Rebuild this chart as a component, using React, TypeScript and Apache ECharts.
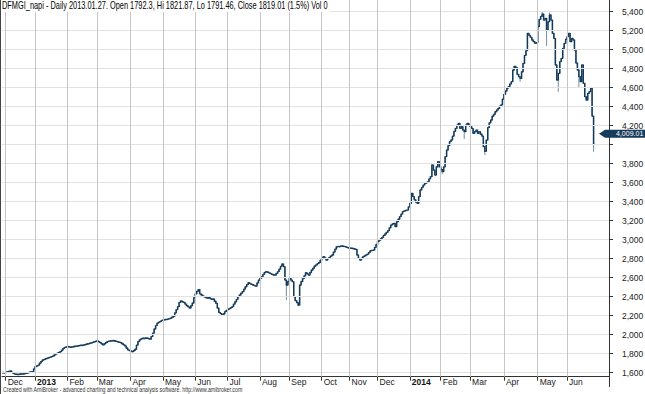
import React, { useEffect, useRef } from 'react';
import * as echarts from 'echarts';

const TITLE = 'DFMGI_napi - Daily 2013.01.27. Open 1792.3, Hi 1821.87, Lo 1791.46, Close 1819.01 (1.5%) Vol 0';
const FOOTER = 'Created with AmiBroker - advanced charting and technical analysis software. http://www.amibroker.com';

const firstOpen = 1600;
const closes: number[] = [
  1602, 1598, 1605, 1610, 1615, 1618, 1603, 1592, 1586, 1584,
  1582, 1585, 1588, 1586, 1590, 1592, 1596, 1600, 1606, 1610,
  1612, 1640, 1663, 1672, 1680, 1702, 1720, 1734, 1740, 1748,
  1752, 1758, 1765, 1770, 1776, 1788, 1798, 1805, 1814, 1822,
  1838, 1857, 1866, 1872, 1876, 1871, 1868, 1872, 1876, 1879,
  1880, 1884, 1887, 1890, 1888, 1893, 1897, 1902, 1906, 1910,
  1915, 1920, 1926, 1931, 1935, 1926, 1917, 1905, 1893, 1905,
  1918, 1928, 1932, 1936, 1938, 1939, 1934, 1930, 1925, 1921,
  1917, 1905, 1894, 1882, 1860, 1840, 1832, 1826, 1822, 1834,
  1847, 1890, 1928, 1945, 1957, 1963, 1960, 1966, 1963, 1958,
  1953, 1980, 2016, 2060, 2095, 2122, 2132, 2140, 2150, 2157,
  2160, 2162, 2164, 2170, 2175, 2184, 2193, 2230, 2265, 2295,
  2340, 2355, 2346, 2340, 2322, 2305, 2292, 2281, 2305, 2334,
  2390, 2430, 2457, 2475, 2430, 2418, 2405, 2398, 2390, 2384,
  2392, 2380, 2372, 2376, 2352, 2330, 2280, 2235, 2222, 2207,
  2218, 2242, 2255, 2267, 2275, 2285, 2295, 2322, 2347, 2372,
  2400, 2418, 2437, 2453, 2480, 2505, 2528, 2547, 2538, 2530,
  2523, 2517, 2512, 2545, 2575, 2592, 2610, 2635, 2655, 2663,
  2658, 2650, 2642, 2635, 2630, 2628, 2645, 2663, 2690, 2720,
  2744, 2716, 2575, 2523, 2560, 2593, 2575, 2558, 2400, 2358,
  2337, 2312, 2523, 2560, 2590, 2620, 2652, 2640, 2628, 2655,
  2681, 2700, 2723, 2735, 2748, 2760, 2785, 2805, 2821, 2805,
  2786, 2800, 2815, 2828, 2839, 2870, 2900, 2926, 2930, 2928,
  2935, 2933, 2930, 2924, 2919, 2915, 2912, 2910, 2908, 2902,
  2898, 2839, 2804, 2786, 2805, 2821, 2830, 2840, 2849, 2866,
  2884, 2888, 2891, 2920, 2950, 2979, 2995, 3010, 3025, 3045,
  3060, 3078, 3095, 3125, 3154, 3165, 3172, 3137, 3189, 3215,
  3242, 3270, 3295, 3302, 3308, 3312, 3345, 3382, 3488, 3453,
  3420, 3395, 3382, 3453, 3523, 3550, 3575, 3590, 3600, 3610,
  3640, 3663, 3786, 3733, 3681, 3768, 3821, 3768, 3740, 3716,
  3768, 3874, 3944, 3990, 4032, 4050, 4090, 4140, 4172, 4207,
  4225, 4172, 4189, 4154, 4137, 4207, 4225, 4207, 4190, 4172,
  4119, 4137, 4154, 4119, 4137, 4110, 4090, 3979, 3930, 4049,
  4180, 4230, 4260, 4300, 4320, 4347, 4365, 4382, 4405, 4420,
  4480, 4530, 4565, 4595, 4610, 4640, 4663, 4786, 4825, 4810,
  4740, 4716, 4698, 4768, 4856, 4940, 4990, 5172, 5150, 5130,
  5102, 5084, 5067, 5075, 5242, 5320, 5350, 5375, 5312, 5330,
  5207, 5295, 5365, 5312, 5172, 5119, 4839, 4681, 4751, 4874,
  4909, 5014, 5067, 5110, 5137, 5172, 5084, 5119, 5102, 4996,
  4860, 4786, 4716, 4663, 4839, 4646, 4505, 4470, 4540, 4558,
  4593, 4300, 4009.01,
];

const wickLows: [number, number][] = [
  [193, 2365], [201, 2300], [299, 3690], [314, 4060], [328, 3891],
  [352, 4663], [370, 5040], [378, 4558], [392, 4600], [402, 3926],
];
const wickHighs: [number, number][] = [[292, 3800], [364, 5260], [367, 5400], [372, 5392]];

const blankBars = 10;
const monthIdx = [2, 22, 44, 64, 87, 109, 131, 153, 175, 195, 217, 236, 255, 277, 298, 318, 341, 364, 384];
const monthLabels = ['Dec', '2013', 'Feb', 'Mar', 'Apr', 'May', 'Jun', 'Jul', 'Aug', 'Sep', 'Oct', 'Nov', 'Dec', '2014', 'Feb', 'Mar', 'Apr', 'May', 'Jun'];
const yTicks = [1600, 1800, 2000, 2200, 2400, 2600, 2800, 3000, 3200, 3400, 3600, 3800, 4000, 4200, 4400, 4600, 4800, 5000, 5200, 5400];
const yMin = 1558;
const yMax = 5523;

const BODY = '#143a5a';
const WICK = '#7f97ab';
const FONT = 'Arial, "Liberation Sans", sans-serif';

export default function App() {
  const ref = useRef<HTMLDivElement>(null);

  useEffect(() => {
    document.body.style.margin = '0';
    if (!ref.current) return;
    const chart = echarts.init(ref.current, null, { renderer: 'svg' });

    const last = closes[closes.length - 1];
    const ohlc = closes.map((c, i) => {
      const o = i === 0 ? firstOpen : closes[i - 1];
      let l = Math.min(o, c);
      let h = Math.max(o, c);
      const wl = wickLows.find((w) => w[0] === i);
      if (wl) l = Math.min(l, wl[1]);
      const wh = wickHighs.find((w) => w[0] === i);
      if (wh) h = Math.max(h, wh[1]);
      return [i, o, c, l, h];
    });
    const cats = Array.from({ length: closes.length + blankBars }, (_, i) => String(i));
    // the tick label hidden behind the last-price marker
    const labelTicks = yTicks.filter((v) => Math.abs(v - last) > 150);

    chart.setOption({
      animation: false,
      backgroundColor: '#ffffff',
      grid: { left: 2, right: 36, top: 0, bottom: 17.3, containLabel: false, outerBoundsMode: 'none' },
      xAxis: {
        type: 'category',
        data: cats,
        boundaryGap: true,
        axisLine: { show: true, lineStyle: { color: '#333', width: 1 } },
        axisTick: {
          show: true,
          alignWithLabel: true,
          length: 4,
          interval: (i: number) => monthIdx.includes(i),
          lineStyle: { color: '#333' },
        },
        axisLabel: {
          show: true,
          interval: (i: number) => monthIdx.includes(i),
          formatter: (v: string) => {
            const k = monthIdx.indexOf(Number(v));
            const t = k >= 0 ? monthLabels[k] : '';
            return /^\d{4}$/.test(t) ? `{b|${t}}` : `{n|${t}}`;
          },
          align: 'left',
          margin: 1,
          padding: [0, 0, 0, 2],
          rich: {
            n: { fontSize: 8.5, fontFamily: FONT, color: '#222' },
            b: { fontSize: 8.5, fontFamily: FONT, color: '#111', fontWeight: 'bold' },
          },
        },
        splitLine: { show: false },
      },
      yAxis: {
        type: 'value',
        position: 'right',
        min: yMin,
        max: yMax,
        axisLine: { show: true, lineStyle: { color: '#333', width: 1 } },
        axisTick: { show: true, length: 4, customValues: yTicks, lineStyle: { color: '#333' } },
        axisLabel: {
          customValues: labelTicks,
          margin: 13,
          formatter: (v: number) => v.toLocaleString('en-US'),
          color: '#222',
          fontSize: 8.5,
          fontFamily: FONT,
        },
        splitLine: { show: false },
      },
      series: [
        {
          type: 'line',
          data: [],
          silent: true,
          z: 1,
          markLine: {
            silent: true,
            symbol: ['none', 'none'],
            label: { show: false },
            lineStyle: { color: '#e2e2e2', type: 'solid', width: 1 },
            emphasis: { disabled: true },
            data: yTicks.map((v) => ({ yAxis: v })),
          },
        },
        {
          type: 'line',
          data: [],
          silent: true,
          z: 1,
          markLine: {
            silent: true,
            symbol: ['none', 'none'],
            label: { show: false },
            lineStyle: { color: '#c6c6c6', type: 'solid', width: 1 },
            emphasis: { disabled: true },
            data: monthIdx.map((i) => ({ xAxis: i })),
          },
        },
        {
          type: 'custom',
          z: 3,
          data: ohlc,
          encode: { x: 0, y: [1, 2, 3, 4] },
          renderItem: (params: any, api: any) => {
            const x = api.value(0);
            const o = api.coord([x, api.value(1)]);
            const c = api.coord([x, api.value(2)]);
            const l = api.coord([x, api.value(3)]);
            const h = api.coord([x, api.value(4)]);
            const half = api.size([1, 0])[0] / 2;
            const top = Math.min(o[1], c[1]);
            const bot = Math.max(o[1], c[1]);
            return {
              type: 'group',
              children: [
                { type: 'line', shape: { x1: l[0], y1: l[1], x2: h[0], y2: h[1] }, style: { stroke: WICK, lineWidth: 1.1 } },
                { type: 'line', shape: { x1: o[0], y1: top - 0.4, x2: o[0], y2: Math.max(bot, top + 0.6) + 0.4 }, style: { stroke: BODY, lineWidth: 1.5 } },
                { type: 'line', shape: { x1: o[0] - half, y1: o[1], x2: o[0], y2: o[1] }, style: { stroke: BODY, lineWidth: 1.3 } },
                { type: 'line', shape: { x1: c[0], y1: c[1], x2: c[0] + half, y2: c[1] }, style: { stroke: BODY, lineWidth: 1.3 } },
              ],
            };
          },
        },
      ],
    });

    const py = (chart.convertToPixel({ yAxisIndex: 0 }, last) as number) - 10;
    const gridRight = 609;
    const axisBottom = 376.7;

    chart.setOption({
      graphic: [
        {
          type: 'line',
          shape: { x1: 0.5, y1: 0, x2: 0.5, y2: 394 },
          style: { stroke: '#444', lineWidth: 1 },
          z: 50,
        },
        {
          type: 'line',
          shape: { x1: gridRight + 0.5, y1: axisBottom, x2: gridRight + 0.5, y2: 387 },
          style: { stroke: '#333', lineWidth: 1 },
          z: 50,
        },
        {
          type: 'text',
          x: 2,
          y: 0,
          scaleX: 0.74,
          z: 60,
          style: {
            text: TITLE,
            fontSize: 10,
            fontFamily: FONT,
            fill: '#000',
            backgroundColor: '#fff',
            padding: [1, 2, 1, 0],
            verticalAlign: 'top',
          },
        },
        {
          type: 'text',
          x: 3,
          y: 389,
          scaleX: 0.75,
          z: 60,
          style: {
            text: FOOTER,
            fontSize: 7,
            fontFamily: FONT,
            fill: '#333',
            verticalAlign: 'middle',
          },
        },
        {
          type: 'polygon',
          z: 60,
          shape: {
            points: [
              [599, py],
              [605, py - 4],
              [645, py - 4],
              [645, py + 4],
              [605, py + 4],
            ],
          },
          style: { fill: '#173b5b' },
        },
        {
          type: 'text',
          x: 616,
          y: py,
          scaleX: 0.88,
          z: 61,
          style: {
            text: last.toLocaleString('en-US', { minimumFractionDigits: 2 }),
            fontSize: 8,
            fontFamily: FONT,
            fill: '#fff',
            verticalAlign: 'middle',
          },
        },
      ],
    });

    return () => chart.dispose();
  }, []);

  return <div ref={ref} style={{ width: 645, height: 394 }} />;
}
